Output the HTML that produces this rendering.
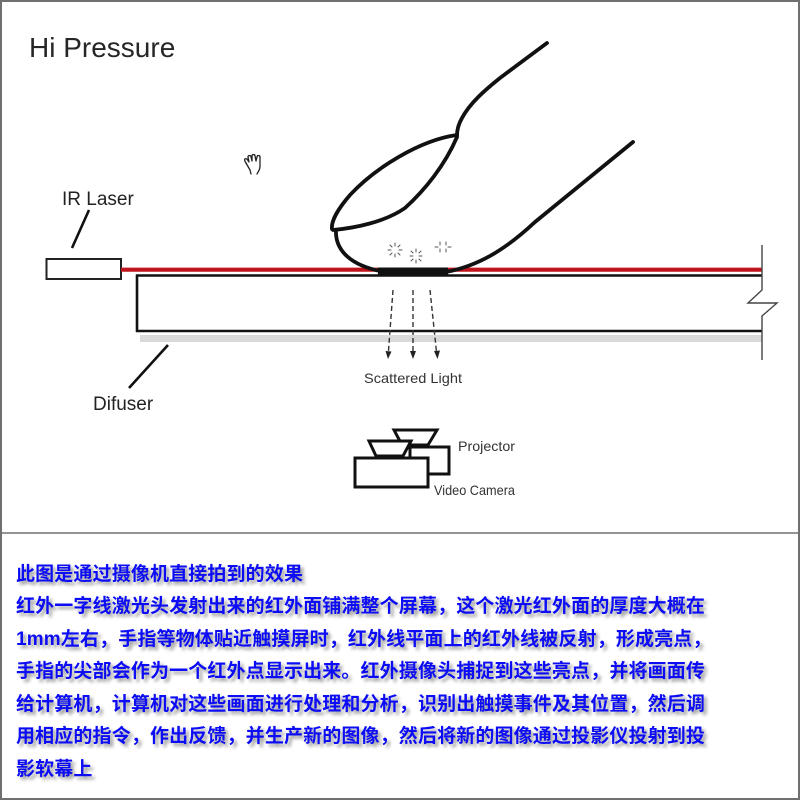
<!DOCTYPE html>
<html>
<head>
<meta charset="utf-8">
<style>
  html,body{margin:0;padding:0;background:#fff;}
  body{width:800px;height:800px;position:relative;overflow:hidden;}
  svg{position:absolute;left:0;top:0;}
  .cn{position:absolute;left:16px;top:558.5px;margin:0;
      font-family:"Liberation Sans","Noto Sans CJK SC",sans-serif;
      font-weight:bold;font-size:19px;line-height:32.6px;color:#0c0cf5;letter-spacing:0.14px;
      white-space:pre;text-shadow:3px 3px 3px #9a9a9a;}
</style>
</head>
<body>
<svg width="800" height="800" viewBox="0 0 800 800" xmlns="http://www.w3.org/2000/svg">
  <!-- outer frame -->
  <rect x="1" y="1" width="798" height="798" fill="none" stroke="#707070" stroke-width="2"/>
  <line x1="0" y1="533" x2="800" y2="533" stroke="#707070" stroke-width="1.6"/>

  <!-- title -->
  <text x="29" y="57" font-family="Liberation Sans, sans-serif" font-size="28" fill="#262626">Hi Pressure</text>

  <!-- hand cursor -->
  <g fill="none" stroke="#222" stroke-width="1.3" stroke-linecap="round" stroke-linejoin="round">
    <path d="M246,163 C244,160 244,158 247,159 L249,162 L248,157 C248,155 251,155 251,157 L252,161 L252,156 C252,154 255,154 255,156 L256,161 L257,157 C257,155 260,155 260,157 L260,166 C260,170 258,172 257,174"/>
    <path d="M246,163 L250,170 L251,174"/>
  </g>

  <!-- IR Laser -->
  <text x="62" y="205" font-family="Liberation Sans, sans-serif" font-size="19" fill="#222">IR Laser</text>
  <line x1="89" y1="210" x2="72" y2="248" stroke="#111" stroke-width="2.6"/>
  <rect x="46.5" y="259" width="74.5" height="20" fill="#fff" stroke="#222" stroke-width="2"/>

  <!-- red laser beam -->
  <line x1="121" y1="269.7" x2="762" y2="269.7" stroke="#c0141c" stroke-width="4.2"/>

  <!-- panel -->
  <line x1="136" y1="275.5" x2="762" y2="275.5" stroke="#111" stroke-width="2.6"/>
  <line x1="136" y1="331" x2="762" y2="331" stroke="#111" stroke-width="2.6"/>
  <line x1="137" y1="274.5" x2="137" y2="332" stroke="#111" stroke-width="2.6"/>
  <!-- diffuser band -->
  <rect x="140" y="335" width="622" height="7" fill="#d9d9d9"/>

  <!-- right break line -->
  <polyline points="762,245 762,290 748,303 777,303 762,316 762,360" fill="none" stroke="#444" stroke-width="1.4"/>

  <!-- Difuser -->
  <line x1="168" y1="345" x2="129" y2="388" stroke="#111" stroke-width="2.6"/>
  <text x="93" y="410" font-family="Liberation Sans, sans-serif" font-size="19" fill="#222">Difuser</text>

  <!-- finger -->
  <g fill="none" stroke="#111" stroke-width="3.8" stroke-linecap="round" stroke-linejoin="round">
    <path d="M547,43 L500,78 C485,90 470,103 462,118 Q457,127 457,135"/>
    <path d="M457,135 C420,140 375,168 350,195 C337,210 331,222 332,229"/>
    <path d="M457,137 C445,165 425,190 405,208 C385,222 355,228 333,230"/>
    <path d="M336,230 C335,250 350,266 385,272 L446,272"/>
    <path d="M446,272 C478,266 505,250 535,222 L633,142"/>
  </g>
  <!-- contact patch -->
  <rect x="378" y="267.5" width="70" height="9" fill="#111"/>

  <!-- sparkles -->
  <g stroke="#555" stroke-width="1" stroke-linecap="round">
    <line x1="395" y1="243" x2="395" y2="246"/><line x1="395" y1="254" x2="395" y2="257"/>
    <line x1="388" y1="250" x2="391" y2="250"/><line x1="399" y1="250" x2="402" y2="250"/>
    <line x1="390" y1="245" x2="392" y2="247"/><line x1="398" y1="253" x2="400" y2="255"/>
    <line x1="400" y1="245" x2="398" y2="247"/><line x1="392" y1="253" x2="390" y2="255"/>

    <line x1="416" y1="249" x2="416" y2="252"/><line x1="416" y1="260" x2="416" y2="263"/>
    <line x1="410" y1="256" x2="413" y2="256"/><line x1="419" y1="256" x2="422" y2="256"/>
    <line x1="411" y1="251" x2="413" y2="253"/><line x1="419" y1="259" x2="421" y2="261"/>
    <line x1="421" y1="251" x2="419" y2="253"/><line x1="413" y1="259" x2="411" y2="261"/>

    <line x1="440" y1="242" x2="440" y2="245"/><line x1="440" y1="249" x2="440" y2="252"/>
    <line x1="446" y1="242" x2="446" y2="245"/><line x1="446" y1="249" x2="446" y2="252"/>
    <line x1="435" y1="247" x2="438" y2="247"/><line x1="448" y1="247" x2="451" y2="247"/>
  </g>

  <!-- scattered light arrows -->
  <g stroke="#333" stroke-width="1.4" stroke-dasharray="5,3" fill="none">
    <line x1="393" y1="290" x2="388.4" y2="352"/>
    <line x1="413" y1="290" x2="413" y2="352"/>
    <line x1="430" y1="290" x2="436.5" y2="352"/>
  </g>
  <g fill="#222">
    <polygon points="385.5,351 391.5,351.5 388,359"/>
    <polygon points="410,351 416,351 413,359"/>
    <polygon points="434,351 440,350.5 437.5,359"/>
  </g>
  <text x="364" y="383" font-family="Liberation Sans, sans-serif" font-size="14" fill="#333" textLength="98" lengthAdjust="spacingAndGlyphs">Scattered Light</text>

  <!-- projector & camera -->
  <g stroke="#111" stroke-width="3" fill="#fff" stroke-linejoin="miter">
    <polygon points="394,430 437,430 428,445 402,445"/>
    <rect x="410" y="447" width="39" height="27"/>
    <polygon points="369,441 411,441 403,456 376,456"/>
    <rect x="355" y="458" width="73" height="29"/>
  </g>
  <text x="458" y="451" font-family="Liberation Sans, sans-serif" font-size="14" fill="#333" textLength="57" lengthAdjust="spacingAndGlyphs">Projector</text>
  <text x="434" y="495" font-family="Liberation Sans, sans-serif" font-size="14" fill="#333" textLength="81" lengthAdjust="spacingAndGlyphs">Video Camera</text>
</svg>

<div class="cn">此图是通过摄像机直接拍到的效果
红外一字线激光头发射出来的红外面铺满整个屏幕，这个激光红外面的厚度大概在
1mm左右，手指等物体贴近触摸屏时，红外线平面上的红外线被反射，形成亮点，
手指的尖部会作为一个红外点显示出来。红外摄像头捕捉到这些亮点，并将画面传
给计算机，计算机对这些画面进行处理和分析，识别出触摸事件及其位置，然后调
用相应的指令，作出反馈，并生产新的图像，然后将新的图像通过投影仪投射到投
影软幕上</div>
</body>
</html>
